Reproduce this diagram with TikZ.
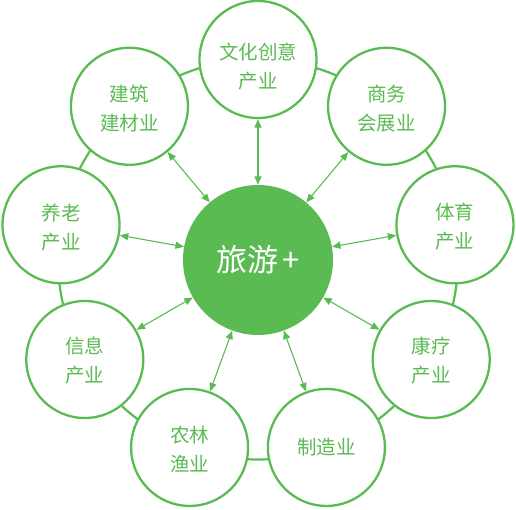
\documentclass[tikz,border=0pt]{standalone}
\usepackage{fontspec}
\setmainfont{Noto Sans CJK SC}
\newfontfamily\cjk{Noto Sans CJK SC}
\usetikzlibrary{arrows.meta}
\definecolor{grn}{RGB}{90,187,83}
\tikzset{
  ring/.style={draw=grn, line width=2.2pt},
  outer/.style={circle, draw=grn, fill=white, line width=2.3pt, minimum size=117pt, inner sep=0pt},
  hub/.style={circle, fill=grn, minimum size=150pt, inner sep=0pt, text=white, font=\cjk\fontsize{31}{36}\selectfont},
  lbl/.style={text=grn, align=center, font=\cjk\fontsize{19.5}{29}\selectfont, inner sep=0pt},
  link/.style={draw=grn, line width=1.1pt, {Triangle[length=8.5pt,width=7pt]}-{Triangle[length=8.5pt,width=7pt]}}
}
\begin{document}
\begin{tikzpicture}[x=1pt,y=1pt]
\useasboundingbox (-258,-249.5) rectangle (258,259.5);
\draw[ring] (0,0) circle (200);
\node[hub] (hub) at (0,-0.5) {旅游\hspace{4pt}+};
\node[outer] (c1) at (90:200) {};
\node[outer] (c2) at (50:200) {};
\node[outer] (c3) at (10:200) {};
\node[outer] (c4) at (-30:200) {};
\node[outer] (c5) at (-70:200) {};
\node[outer] (c6) at (-110:200) {};
\node[outer] (c7) at (-150:200) {};
\node[outer] (c8) at (170:200) {};
\node[outer] (c9) at (130:200) {};
\node[lbl] (t1) at ([yshift=-7]c1.center) {文化创意\\产业};
\node[lbl] (t2) at ([yshift=-2.5]c2.center) {商务\\会展业};
\node[lbl] (t3) at ([yshift=-1.5]c3.center) {体育\\产业};
\node[lbl] (t4) at ([yshift=-1.5]c4.center) {康疗\\产业};
\node[lbl] (t5) at ([yshift=0]c5.center) {制造业};
\node[lbl] (t6) at ([yshift=-1.5]c6.center) {农林\\渔业};
\node[lbl] (t7) at ([yshift=-1.5]c7.center) {信息\\产业};
\node[lbl] (t8) at ([yshift=-2.5]c8.center) {养老\\产业};
\node[lbl] (t9) at ([yshift=-2]c9.center) {建筑\\建材业};
\foreach \i in {1,...,9} {\draw[link] (hub) -- (c\i);}
\end{tikzpicture}
\end{document}
